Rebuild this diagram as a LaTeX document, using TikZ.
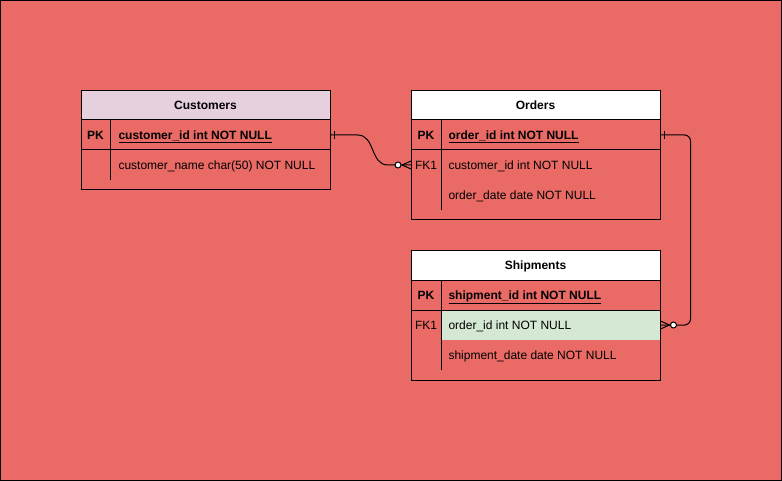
\documentclass[tikz,border=0pt]{standalone}
\usepackage{fontspec}
\setmainfont{Liberation Sans}
\usepackage{tikz}

\definecolor{bgred}{HTML}{EA6B66}
\definecolor{custpink}{HTML}{E6D0DE}
\definecolor{fkgreen}{HTML}{D5E8D4}

\tikzset{
	tblhead/.style={draw=black, minimum width=249pt, minimum height=29pt, inner sep=0pt, text height=8.6pt, text depth=0pt},
	rowbox/.style={draw=black, minimum width=249pt, inner sep=0pt},
	keycell/.style={anchor=base, inner sep=0pt, yshift=-4.5pt},
	field/.style={anchor=base west, inner sep=0pt, yshift=-4.5pt},
	rel/.style={-, black},
}

\begin{document}
\begin{tikzpicture}[x=1pt, y=-1pt, line width=1pt, font=\fontsize{12}{14}\selectfont]
	
	\useasboundingbox (0,0) rectangle (782,481);
	\draw[fill=bgred] (0.5,0.5) rectangle (781.5,480.5);
	
	% Customers
	\node[tblhead, fill=custpink] (cust) at (205.5,105.5) {\textbf{Customers}};
	\node[rowbox, minimum height=30pt] (custpk) at (205.5,135) {};
	\node[rowbox, minimum height=40pt] (custrest) at (205.5,170) {};
	\draw (110,120) -- (110,180);
	\node[keycell] (custpkkey) at (95.5,135) {\textbf{PK}};
	\node[field] (custid) at (118,135) {\underline{\textbf{customer\_id int NOT NULL}}};
	\node[field] (custname) at (118,165) {customer\_name char(50) NOT NULL};
	
	% Orders
	\node[tblhead, fill=white] (ord) at (535.5,105.5) {\textbf{Orders}};
	\node[rowbox, minimum height=30pt] (ordpk) at (535.5,135) {};
	\node[rowbox, minimum height=70pt] (ordrest) at (535.5,185) {};
	\draw (441,120) -- (441,210);
	\node[keycell] (ordpkkey) at (426,135) {\textbf{PK}};
	\node[keycell] (ordfkkey) at (426,165) {FK1};
	\node[field] (ordid) at (448,135) {\underline{\textbf{order\_id int NOT NULL}}};
	\node[field] (ordcid) at (448,165) {customer\_id int NOT NULL};
	\node[field] (orddate) at (448,195) {order\_date date NOT NULL};
	\coordinate (ordfkin) at (411,165);
	
	% Shipments
	\node[tblhead, fill=white] (ship) at (535.5,265.5) {\textbf{Shipments}};
	\node[rowbox, minimum height=30pt] (shippk) at (535.5,295) {};
	\node[fill=fkgreen, minimum width=219pt, minimum height=30pt, inner sep=0pt] (shipfk) at (550.5,325) {};
	\node[rowbox, minimum height=70pt] (shiprest) at (535.5,345) {};
	\draw (441,280) -- (441,370);
	\node[keycell] (shippkkey) at (426,295) {\textbf{PK}};
	\node[keycell] (shipfkkey) at (426,325) {FK1};
	\node[field] (shipid) at (448,295) {\underline{\textbf{shipment\_id int NOT NULL}}};
	\node[field] (shipoid) at (448,325) {order\_id int NOT NULL};
	\node[field] (shipdate) at (448,355) {shipment\_date date NOT NULL};
	
	% relations
	\draw[rel] (custpk.east) -- ++(27,0) .. controls +(18,0) and +(-18,0) .. ([xshift=-23pt]ordfkin) -- (ordfkin);
	\draw[rel] ([xshift=4pt]custpk.east) ++(0,-4) -- ++(0,8);
	\draw[rel] ([xshift=-9pt]ordfkin) -- ([yshift=-4pt]ordfkin);
	\draw[rel] ([xshift=-9pt]ordfkin) -- ([yshift=4pt]ordfkin);
	\draw[rel, fill=white] ([xshift=-13pt]ordfkin) circle (3);
	
	\draw[rel, rounded corners=6pt] (ordpk.east) -- ++(30,0) |- (shipfk.east);
	\draw[rel] ([xshift=4pt]ordpk.east) ++(0,-4) -- ++(0,8);
	\draw[rel] ([xshift=9pt]shipfk.east) -- ([yshift=-4pt]shipfk.east);
	\draw[rel] ([xshift=9pt]shipfk.east) -- ([yshift=4pt]shipfk.east);
	\draw[rel, fill=white] ([xshift=13pt]shipfk.east) circle (3);
	
\end{tikzpicture}
\end{document}
